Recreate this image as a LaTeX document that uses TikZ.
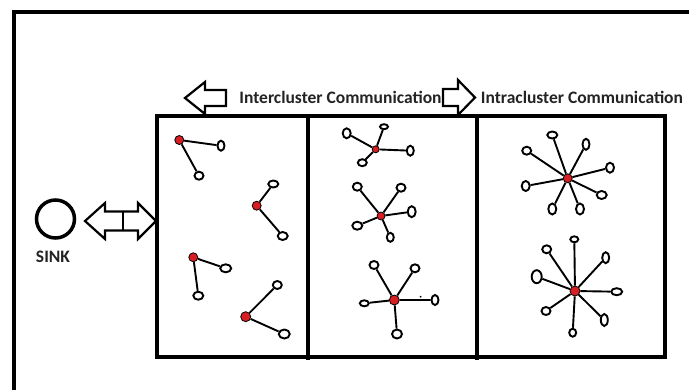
\documentclass[tikz,border=0pt]{standalone}
\usepackage{fontspec}
\setmainfont{Carlito}
\usetikzlibrary{shapes.geometric}
\definecolor{hubred}{RGB}{215,30,35}
\definecolor{txt}{RGB}{35,35,35}
\tikzset{
  frame/.style={line width=4pt},
  leaf/.style={ellipse,draw,line width=1.9pt,fill=white,inner sep=0pt},
  hub/.style={circle,draw,line width=0.8pt,fill=hubred,inner sep=0pt,minimum size=9pt},
  edge/.style={line width=1.9pt},
  label/.style={font=\fontsize{17.5}{20}\selectfont\bfseries,text=txt,inner sep=0pt},
  hollow/.style={draw,line width=2.2pt,line join=miter,fill=white}
}
\newcommand\leafnode[5]{\node[leaf,minimum width=#4pt,minimum height=#5pt] (#1) at (#2,#3) {};}
\begin{document}
\begin{tikzpicture}[x=1pt,y=-1pt]
\useasboundingbox (0,0) rectangle (689,389);
\clip (0,0) rectangle (689,389);
% outer frame
\draw[frame] (14,400) -- (14,12) -- (700,12);
% main box
\draw[frame] (157,116) rectangle (665,357);
\draw[frame] (308,116) -- (308,360);
\draw[frame] (477,116) -- (477,360);
% sink
\node[circle,draw,line width=3.5pt,minimum size=38pt,inner sep=0pt] (sink) at (55.5,219) {};
\node[label] (sinklbl) at (53,257) {SINK};
% double arrow
\draw[hollow] (85,221) -- (105,203) -- (105,211.5) -- (138,211.5) -- (138,203) -- (156,221) -- (138,239) -- (138,230.5) -- (105,230.5) -- (105,239) -- cycle;
\draw[line width=2.2pt] (123,211.5) -- (123,230.5);
% top arrows
\draw[hollow] (185,98) -- (205,82) -- (205,90) -- (226,90) -- (226,106) -- (205,106) -- (205,114) -- cycle;
\draw[hollow] (443,89) -- (458,89) -- (458,80) -- (475,97.5) -- (458,115) -- (458,106) -- (443,106) -- cycle;
\node[label] (inter) at (340.5,97) {Intercluster Communication};
\node[label] (intra) at (582,97) {Intracluster Communication};
% ---------- panel 1 ----------
\node[hub] (a) at (179.3,140) {};
\leafnode{a1}{221}{145.7}{7}{10}
\leafnode{a2}{199}{175.7}{9}{8}
\draw[edge] (a)--(a1) (a)--(a2);
\node[hub] (b) at (256.7,205.7) {};
\leafnode{b1}{273.3}{184}{10}{7}
\leafnode{b2}{282.7}{236}{10}{8}
\draw[edge] (b)--(b1) (b)--(b2);
\node[hub] (c) at (193.3,257.3) {};
\leafnode{c1}{225.7}{268.3}{11}{8}
\leafnode{c2}{198.3}{295.7}{10}{8}
\draw[edge] (c)--(c1) (c)--(c2);
\node[hub,minimum size=10pt] (d) at (245.7,316.7) {};
\leafnode{d1}{277.3}{285}{9}{8}
\leafnode{d2}{284.3}{334}{11}{9}
\draw[edge] (d)--(d1) (d)--(d2);
% ---------- panel 2 ----------
\node[hub,minimum size=7pt] (e) at (375.7,149.3) {};
\leafnode{e1}{346.7}{133.3}{8}{10}
\leafnode{e2}{384}{126.7}{8}{5}
\leafnode{e3}{410.3}{150.7}{7}{10}
\leafnode{e4}{362.3}{162.7}{9}{7}
\draw[edge] (e)--(e1) (e)--(e2) (e)--(e3) (e)--(e4);
\node[hub,minimum size=8pt] (f) at (381,216) {};
\leafnode{f1}{357.3}{186.7}{9}{8}
\leafnode{f2}{401}{187.7}{9}{8}
\leafnode{f3}{411.7}{211.7}{8}{11}
\leafnode{f4}{357.3}{225.7}{10}{8}
\leafnode{f5}{390.3}{237.3}{7}{9}
\draw[edge] (f)--(f1) (f)--(f2) (f)--(f3) (f)--(f4) (f)--(f5);
\node[hub,minimum size=10pt] (g) at (394.3,300) {};
\leafnode{g1}{374}{265}{9}{8}
\leafnode{g2}{415}{268.3}{9}{8}
\leafnode{g3}{435}{300}{7}{10}
\leafnode{g4}{364.3}{303.3}{9}{6}
\leafnode{g5}{397}{334}{10}{9}
\draw[edge] (g)--(g1) (g)--(g2) (g)--(g3) (g)--(g4) (g)--(g5);
\node[circle,fill=black,inner sep=0pt,minimum size=2pt] (gdot) at (420.7,296.7) {};
% ---------- panel 3 ----------
\node[hub] (h) at (567.7,178.3) {};
\leafnode{h1}{552.3}{135}{10}{7}
\leafnode{h2}{586}{144.3}{7}{11}
\leafnode{h3}{526.7}{150.7}{9}{8}
\leafnode{h4}{610}{167.7}{8}{10}
\leafnode{h5}{525.7}{186}{8}{10}
\leafnode{h6}{601.7}{195}{10}{8}
\leafnode{h7}{552.3}{209}{8}{11}
\leafnode{h8}{580}{209}{8}{11}
\draw[edge] (h)--(h1) (h)--(h2) (h)--(h3) (h)--(h4) (h)--(h5) (h)--(h6) (h)--(h7) (h)--(h8);
\node[hub,minimum size=10pt] (i) at (575,291) {};
\leafnode{i1}{574.3}{239.3}{8}{6}
\leafnode{i2}{546.7}{249.3}{9}{8}
\leafnode{i3}{605.7}{257.7}{7}{11}
\leafnode{i4}{536.7}{276.7}{10}{13}
\leafnode{i5}{616.7}{291.7}{11}{7}
\leafnode{i6}{546}{311}{9}{8}
\leafnode{i7}{604.3}{320}{7}{12}
\leafnode{i8}{572.7}{332.7}{7}{8}
\draw[edge] (i)--(i1) (i)--(i2) (i)--(i3) (i)--(i4) (i)--(i5) (i)--(i6) (i)--(i7) (i)--(i8);
\end{tikzpicture}
\end{document}
